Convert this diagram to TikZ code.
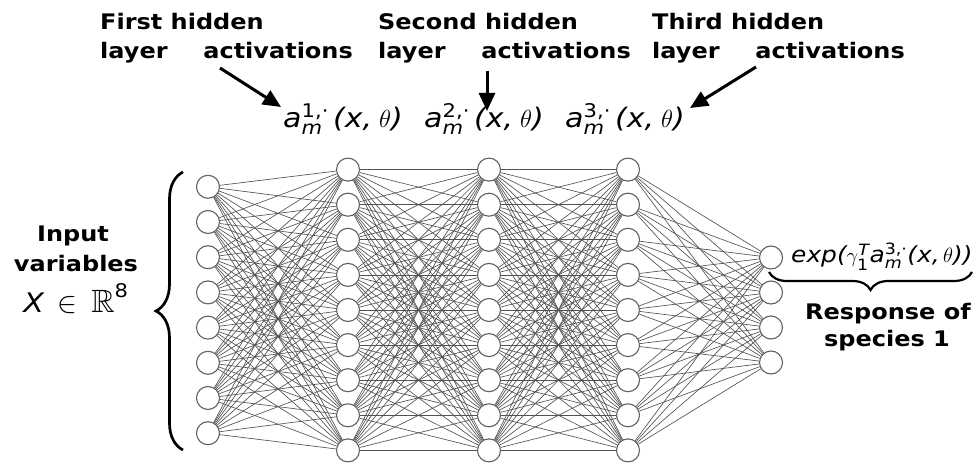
\documentclass[tikz,border=0pt]{standalone}
\usepackage{amsmath,amssymb}
\usepackage{fontspec}
\setmainfont{DejaVu Sans}[FakeStretch=1.12]
\usetikzlibrary{arrows.meta,decorations.pathreplacing,backgrounds}
\newcommand\vi[1]{\text{\itshape #1}}
\newcommand\vu[1]{\text{#1}}
\begin{document}
\begin{tikzpicture}[x=1bp,y=-1bp,
  neuron/.style={circle,draw=black!62,line width=1.1bp,fill=white,minimum size=23bp,inner sep=0pt},
  link/.style={draw=black!68,line width=0.65bp},
  lbl/.style={font=\fontsize{21.5}{24}\selectfont\bfseries,inner sep=0pt},
  mlbl/.style={font=\fontsize{27}{30}\selectfont,inner sep=0pt},
  elbl/.style={font=\fontsize{22.3}{24}\selectfont,inner sep=0pt},
  bigarrow/.style={line width=3bp,-{Triangle[length=18bp,width=16bp]}},
  bracestyle/.style={decorate,line width=2.7bp},
  ]
\useasboundingbox (0,0) rectangle (978,464);
% neurons
\foreach \k in {1,...,8} \node[neuron] (i\k) at (208,{310+(\k-4.5)*35.2}) {};
\foreach \k in {1,...,9} {
  \node[neuron] (a\k) at (348,{310+(\k-5)*35.1}) {};
  \node[neuron] (b\k) at (489,{310+(\k-5)*35.1}) {};
  \node[neuron] (c\k) at (628,{310+(\k-5)*35.1}) {};
}
\foreach \k in {1,...,4} \node[neuron] (o\k) at (771,{310+(\k-2.5)*35}) {};
% links
\begin{scope}[on background layer]
\foreach \s in {1,...,8} \foreach \t in {1,...,9} \draw[link] (i\s) -- (a\t);
\foreach \s in {1,...,9} \foreach \t in {1,...,9} \draw[link] (a\s) -- (b\t);
\foreach \s in {1,...,9} \foreach \t in {1,...,9} \draw[link] (b\s) -- (c\t);
\foreach \s in {1,...,9} \foreach \t in {1,...,4} \draw[link] (c\s) -- (o\t);
\end{scope}
% top labels
\node[lbl,anchor=base west] (t1a) at (100,30) {First hidden};
\node[lbl,anchor=base west] (t1b) at (100,59) {layer};
\node[lbl,anchor=base east] (t1c) at (353,59) {activations};
\node[lbl,anchor=base west] (t2a) at (378,30) {Second hidden};
\node[lbl,anchor=base west] (t2b) at (378,59) {layer};
\node[lbl,anchor=base east] (t2c) at (631,59) {activations};
\node[lbl,anchor=base west] (t3a) at (652,30) {Third hidden};
\node[lbl,anchor=base west] (t3b) at (652,59) {layer};
\node[lbl,anchor=base east] (t3c) at (905,59) {activations};
% activation formulas
\node[mlbl,anchor=base west] (m1) at (283,128) {$\vi{a}^{\vu{1,·}}_{\vi{m}}\,\vi{(x,}\;\theta\vi{)}$};
\node[mlbl,anchor=base west] (m2) at (424,128) {$\vi{a}^{\vu{2,·}}_{\vi{m}}\,\vi{(x,}\;\theta\vi{)}$};
\node[mlbl,anchor=base west] (m3) at (565,128) {$\vi{a}^{\vu{3,·}}_{\vi{m}}\,\vi{(x,}\;\theta\vi{)}$};
% arrows
\coordinate (p1s) at (220,68); \coordinate (p1e) at (281,107);
\coordinate (p2s) at (487,71); \coordinate (p2e) at (487,111);
\coordinate (p3s) at (756,67); \coordinate (p3e) at (690,108);
\draw[bigarrow] (p1s) -- (p1e);
\draw[bigarrow] (p2s) -- (p2e);
\draw[bigarrow] (p3s) -- (p3e);
% input
\node[lbl,anchor=base] (in1) at (73,242) {Input};
\node[lbl,anchor=base] (in2) at (76,272) {variables};
\node[mlbl,anchor=base] (in3) at (76,313) {$\vi{X}\;\mathrel{\scalebox{1.2}{$\in$}}\;\scalebox{1.2}{$\mathbb{R}$}^{\vu{8}}$};
\coordinate (lb1) at (183,450); \coordinate (lb2) at (183,172);
\draw[bracestyle,decoration={brace,amplitude=27bp}] (lb1) -- (lb2);
% output
\node[elbl,anchor=base west] (ex) at (791,263) {$\vi{exp(}\gamma^{\vi{T}}_{\vu{1}}\vi{a}^{\vu{3,·}}_{\vi{m}}\vi{(x,}\,\theta\vi{))}$};
\coordinate (rb1) at (972,272); \coordinate (rb2) at (769,272);
\draw[bracestyle,line width=2.2bp,decoration={brace,amplitude=18bp}] (rb1) -- (rb2);
\node[lbl,anchor=base] (r1) at (888,320) {Response of};
\node[lbl,anchor=base] (r2) at (887,347) {species 1};
\end{tikzpicture}
\end{document}
